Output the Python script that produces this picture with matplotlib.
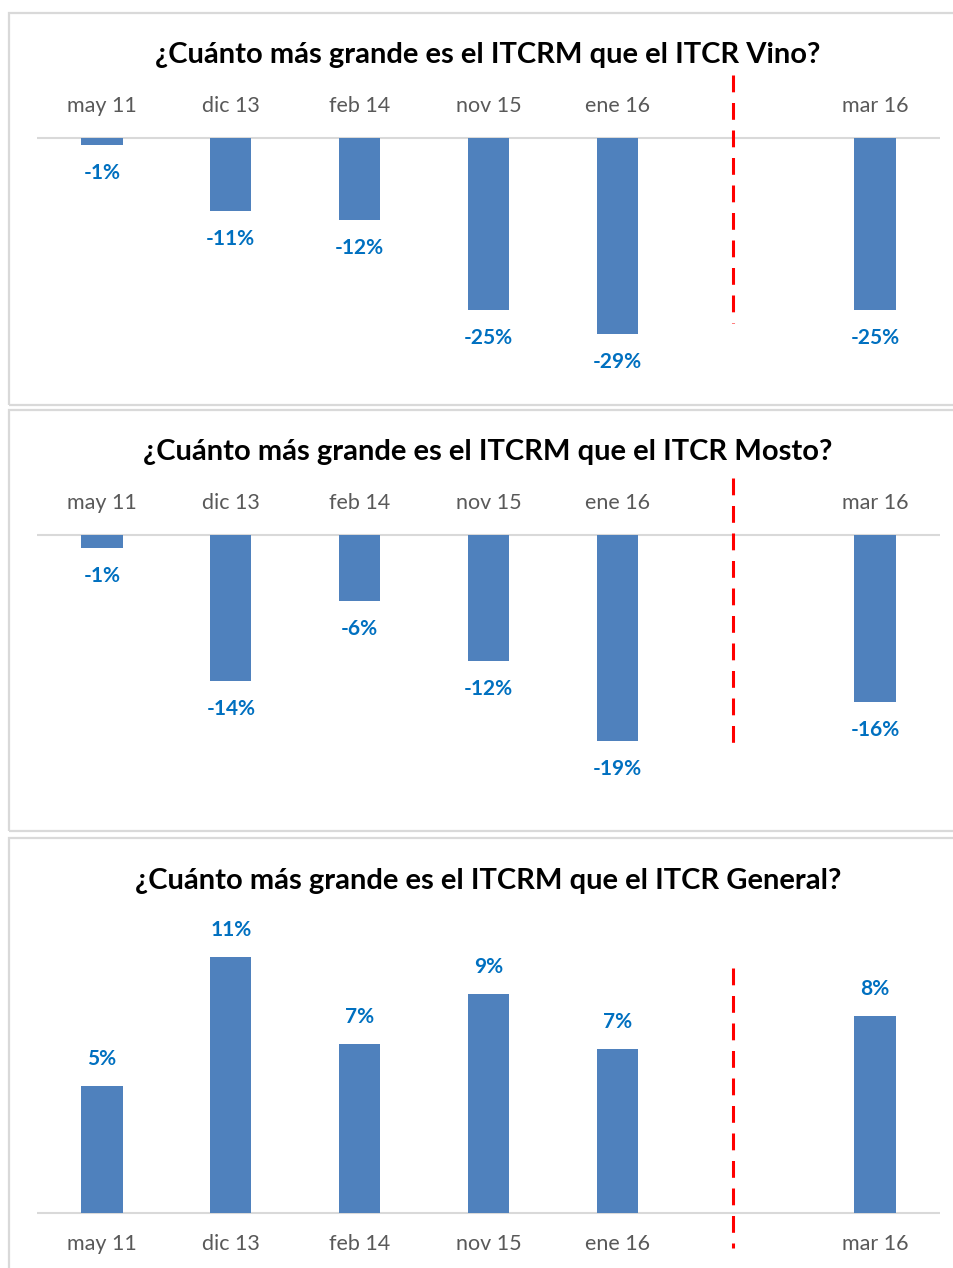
import matplotlib
matplotlib.use("Agg")
import matplotlib.pyplot as plt
from matplotlib.patches import Rectangle

plt.rcParams['font.family'] = ['Lato', 'DejaVu Sans']

categories = ["may 11", "dic 13", "feb 14", "nov 15", "ene 16", "", "mar 16"]
positions = [0, 1, 2, 3, 4, 6]
labels = ["may 11", "dic 13", "feb 14", "nov 15", "ene 16", "mar 16"]

vino = [-1.0, -10.7, -12.1, -25.3, -28.8, -25.3]
mosto = [-1.2, -13.8, -6.2, -11.9, -19.4, -15.8]
general = [5.4, 10.9, 7.2, 9.3, 7.0, 8.4]

titles = ["¿Cuánto más grande es el ITCRM que el ITCR Vino?",
          "¿Cuánto más grande es el ITCRM que el ITCR Mosto?",
          "¿Cuánto más grande es el ITCRM que el ITCR General?"]

W, H = 954, 1268
BAR = "#4F81BD"
LAB = "#0070C0"
GRID = "#D9D9D9"
CAT = "#595959"

fig = plt.figure(figsize=(W / 100, H / 100), dpi=100)


def frac(l, t, r, b):
    return [l / W, 1 - b / H, (r - l) / W, (b - t) / H]


# panel frames
for t, b in [(13, 405), (410, 831), (838, 1290)]:
    fig.patches.append(Rectangle((9 / W, 1 - b / H), (980 - 9) / W, (b - t) / H,
                                 transform=fig.transFigure, fill=False,
                                 edgecolor=GRID, linewidth=1.6))

# (title y, axes top, axes bottom, baseline, px per %, cat y, red line top, red line bottom)
panels = [
    (vino, titles[0], 55, 70, 390, 138, 6.8, 106, 75, 323),
    (mosto, titles[1], 452, 470, 800, 535, 10.6, 503, 478, 748),
    (general, titles[2], 881, 900, 1235, 1213, 23.5, 1244, 968, 1248),
]

for vals, title, ty, atop, abot, base, sc, cy, rt, rb in panels:
    ax = fig.add_axes(frac(37.5, atop, 939.5, abot))
    ax.set_xlim(-0.5, 6.5)
    ax.set_ylim(-(abot - base) / sc, (base - atop) / sc)
    ax.axis("off")
    ax.bar(positions, vals, width=0.32, color=BAR, zorder=2)
    ax.axhline(0, color=GRID, linewidth=1.5, zorder=1)
    for x, v in zip(positions, vals):
        off = 27 if v > 0 else -28
        ax.annotate(f"{round(v):d}%", (x, v), xytext=(0, off * 0.72),
                    textcoords="offset points", ha="center", va="center",
                    color=LAB, fontsize=15, fontweight="bold")
    cat_off = (base - cy) * 0.72
    for x, lab in zip(positions, labels):
        ax.annotate(lab, (x, 0), xytext=(0, cat_off), textcoords="offset points",
                    ha="center", va="center", color=CAT, fontsize=15.5)
    ax.vlines(4.9, (base - rt) / sc, (base - rb) / sc, colors="#FF0000",
              linewidth=2.2, linestyles=(0, (5.5, 3.5)), clip_on=False, zorder=3)
    fig.text(488 / W, 1 - ty / H, title, ha="center", va="center",
             fontsize=21, fontweight="bold", color="black")

fig.savefig("out.png", dpi=100, facecolor="white")
